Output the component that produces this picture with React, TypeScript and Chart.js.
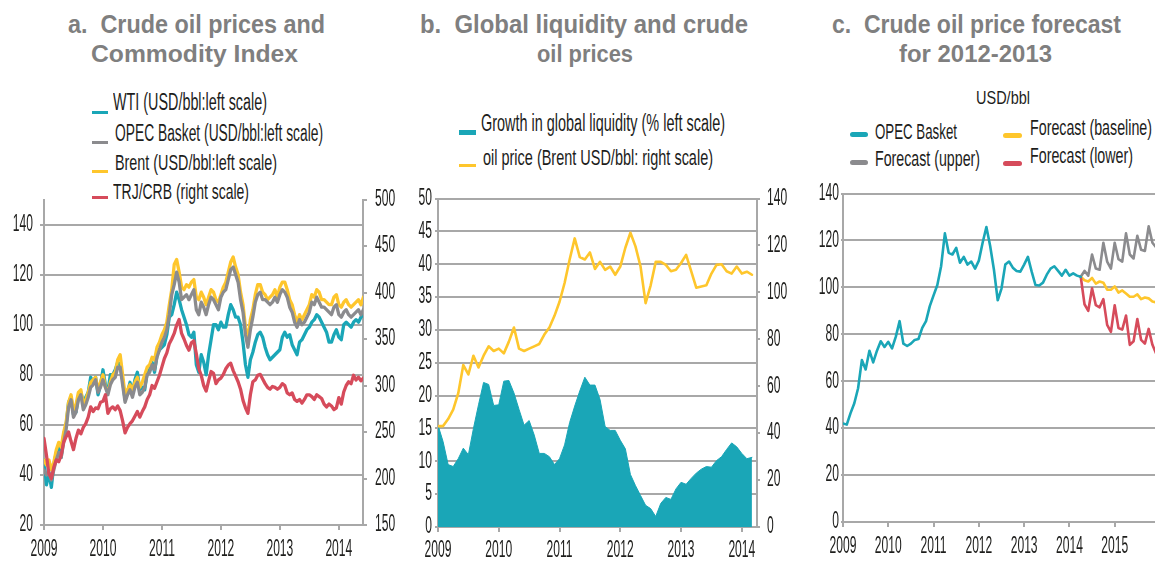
import React, { useEffect, useRef } from 'react';
import { Chart, registerables } from 'chart.js';

Chart.register(...registerables);

// ---------------- DATA ----------------
const START_YEAR = 2009;
const POINTS_PER_YEAR_A = 24; // panel a: twice a month
const POINTS_PER_YEAR_M = 12; // panels b, c: monthly

// Panel a (USD/bbl, left scale)
const WTI = [
  46, 36, 41, 35, 44, 49, 51, 47, 56, 60, 69, 71, 64, 65, 71, 73, 69, 71, 73, 79, 77, 79, 72, 76,
  82, 76, 73, 80, 80, 82, 85, 84, 78, 70, 73, 77, 73, 78, 81, 74, 75, 74, 81, 82, 85, 81, 88, 90,
  91, 92, 96, 103, 104, 108, 113, 110, 106, 103, 100, 96, 95, 97, 84, 81, 88, 85, 80, 88, 94, 100, 100, 98,
  101, 99, 99, 104, 108, 106, 103, 103, 100, 93, 84, 79, 86, 89, 93, 96, 97, 95, 91, 88, 86, 87, 88, 89,
  90, 95, 97, 95, 96, 92, 90, 88, 93, 94, 96, 98, 99, 101, 102, 104, 103, 101, 99, 97, 93, 93, 96, 98,
  95, 94, 100, 101, 100, 99, 101, 102, 101, 103, 104,
];
const OPEC_A = [
  42, 40, 41, 38, 42, 46, 49, 47, 53, 58, 67, 70, 63, 65, 70, 72, 66, 68, 71, 75, 76, 78, 73, 75,
  78, 75, 72, 76, 78, 79, 83, 83, 76, 69, 72, 74, 71, 75, 77, 72, 73, 75, 80, 81, 84, 82, 87, 90,
  93, 95, 98, 104, 112, 116, 121, 117, 110, 111, 112, 110, 112, 114, 106, 104, 109, 107, 104, 108, 111, 110, 108, 106,
  111, 113, 114, 118, 122, 123, 120, 117, 110, 105, 96, 91, 98, 103, 109, 112, 113, 110, 110, 109, 108, 109, 111, 109,
  112, 114, 113, 111, 107, 105, 101, 99, 102, 100, 101, 103, 105, 109, 108, 111, 109, 107, 107, 106, 105, 104, 107, 108,
  104, 103, 105, 106, 104, 103, 104, 105, 106, 104, 106,
];
const BRENT_A = [
  46, 44, 46, 42, 45, 50, 53, 51, 57, 61, 69, 72, 66, 68, 73, 74, 68, 70, 73, 77, 78, 79, 74, 77,
  80, 75, 73, 77, 80, 81, 86, 88, 80, 72, 74, 76, 74, 77, 79, 75, 77, 80, 83, 84, 87, 86, 91, 93,
  96, 98, 101, 108, 114, 124, 126, 121, 115, 114, 116, 115, 117, 118, 111, 110, 113, 111, 108, 111, 114, 113, 110, 109,
  112, 115, 117, 121, 125, 127, 123, 120, 113, 108, 99, 94, 102, 106, 112, 116, 116, 113, 112, 110, 111, 112, 114, 111,
  115, 117, 117, 114, 110, 108, 104, 101, 104, 102, 104, 106, 108, 112, 111, 114, 113, 110, 110, 109, 108, 108, 111, 112,
  108, 107, 109, 110, 108, 107, 108, 109, 110, 108, 111,
];
// TRJ/CRB index (right scale)
const CRB = [
  243, 225, 205, 200, 212, 220, 218, 225, 239, 245, 250, 240, 231, 243, 252, 248, 255, 259, 266, 277, 272, 276, 275, 282,
  283, 290, 270, 275, 277, 274, 278, 273, 262, 249, 255, 259, 262, 267, 272, 266, 272, 277, 285, 290, 300, 297, 304, 311,
  320, 329, 335, 345, 350, 356, 365, 371, 356, 350, 343, 338, 346, 348, 334, 318, 311, 300, 294, 305, 315, 313, 302, 306,
  308, 312, 318, 322, 324, 316, 310, 304, 296, 284, 276, 270, 290, 304, 306, 311, 312, 307, 302, 298, 296, 299, 298, 296,
  298, 302, 300, 292, 290, 292, 285, 283, 285, 281, 285, 290, 290, 288, 285, 290, 288, 286, 280, 277, 280, 278, 274, 276,
  287, 280, 293, 300, 304, 302, 311, 306, 309, 305, 308,
];

// Panel b (monthly, Jan 2009 - Mar 2014)
const LIQUIDITY = [
  15.5, 13, 9.5, 9.2, 10.4, 12, 11, 15, 18.6, 22, 21.7, 18.5,
  18.6, 22.2, 22.3, 20.4, 17.9, 15.5, 16.2, 14, 11.2, 11.2, 10.7, 9.5,
  10.4, 12.5, 15.9, 18.4, 20.7, 22.8, 21.6, 21.6, 19.4, 15.3, 14.7, 14.7,
  13.2, 11.9, 8, 6.3, 4.8, 3.3, 2.8, 1.6, 3.6, 4.5, 4.2, 5.8,
  6.8, 6.5, 7.4, 8.2, 8.8, 9.2, 9.1, 10.1, 10.7, 11.8, 12.8, 12.2,
  11.2, 10.4, 10.6,
];
const BRENT_B = [
  43, 43, 46, 50, 57, 69, 65, 73, 68, 73, 77, 75,
  76, 74, 79, 85, 76, 75, 76, 77, 78, 82, 85, 90,
  96, 104, 114, 123, 115, 114, 117, 110, 113, 109.6, 111, 107.5,
  111, 119, 125.4, 119.6, 111, 95.4, 103, 113, 113, 111.7, 109, 109.6,
  112.5, 116, 109, 102, 102.5, 103, 108, 111.7, 112, 109, 108, 111,
  108, 108.8, 107.5,
];

// Panel c (monthly, Jan 2009 - Apr 2014, forecasts from the last actual month)
const OPEC_C = [
  42, 41.5, 46.4, 50.6, 57, 69, 65, 73, 68, 73, 77, 74.6,
  76.8, 74, 79, 85.6, 76, 75, 76, 77.6, 78, 82.7, 85.6, 92,
  96.6, 101, 109, 123, 114.7, 114, 116.8, 110.5, 113, 109.7, 111, 108,
  111.4, 119, 125.7, 117.6, 107.5, 94.5, 99.5, 109.7, 111, 108.4, 107, 106.7,
  109.7, 113, 106.7, 101, 100.8, 102, 105.4, 108, 109, 107, 105, 107.5,
  105, 106, 105, 104.5,
];
const FORECAST_START = 63;
const FC_UPPER = [104.5, 107, 105, 114, 108, 107.5, 119, 111, 108, 119, 112, 111, 123, 114, 112.3, 122, 116, 115.5, 126, 119, 117, 116];
const FC_BASE = [104.5, 103, 102.5, 104, 101.6, 102.5, 102, 99, 99, 100.4, 97.8, 98.7, 97.4, 96, 96, 97, 95, 95.7, 95.3, 94, 93.6, 93.2];
const FC_LOWER = [104.5, 92.8, 90, 99.6, 92.4, 91.5, 95, 84, 81, 92.4, 82.7, 82, 88, 75.5, 77, 86.5, 77.6, 76, 82.3, 75.5, 71.7, 70];

// ---------------- STYLE ----------------
const TEAL = '#1aa6b7';
const GRAY = '#8b8b8e';
const GOLD = '#fec62c';
const RED = '#d64b5b';
const GRID = '#a8a8a8';
const TEXT = '#1d1d1b';
const TITLE = '#7f7f7f';

const MCTX = document.createElement('canvas').getContext('2d') as CanvasRenderingContext2D;
function measure(text: string, font: string) {
  MCTX.font = font;
  return MCTX.measureText(text).width;
}
function hasFont(name: string) {
  const probe = '0123456789abcdefWXYZ';
  const a = measure(probe, '40px monospace');
  const b = measure(probe, `40px '${name}', monospace`);
  return Math.abs(a - b) > 0.5;
}
const NARROW_OK = hasFont('Liberation Sans Narrow');
const LABEL_FAMILY = NARROW_OK ? "'Liberation Sans Narrow', 'Liberation Sans', sans-serif" : "'Liberation Sans', sans-serif";
const TICK_SIZE = 23;
const TICK_SX = NARROW_OK ? 0.64 : 0.525;
const TICK_FONT = { family: LABEL_FAMILY, size: TICK_SIZE, weight: 'normal' as const, lineHeight: 1.0 };

// squeeze tick label glyphs horizontally (condensed look)
const condensePlugin = {
  id: 'condense',
  beforeDraw(chart: any) {
    const ctx = chart.ctx as any;
    if (ctx.__origFill) return;
    const orig = ctx.fillText;
    ctx.__origFill = orig;
    ctx.fillText = function (text: string, x: number, y: number, maxWidth?: number) {
      this.save();
      this.translate(x, y);
      this.scale(TICK_SX, 1);
      if (maxWidth === undefined || maxWidth === null) orig.call(this, text, 0, 0);
      else orig.call(this, text, 0, 0, maxWidth / TICK_SX);
      this.restore();
    };
  },
  afterDraw(chart: any) {
    const ctx = chart.ctx as any;
    if (ctx.__origFill) {
      ctx.fillText = ctx.__origFill;
      delete ctx.__origFill;
    }
  },
};

function series(values: number[], perYear: number, yAxisID: string, color: string, width: number, startIndex = 0) {
  return {
    data: values.map((v, i) => ({ x: START_YEAR + (startIndex + i) / perYear, y: v })),
    yAxisID,
    borderColor: color,
    backgroundColor: color,
    borderWidth: width,
    pointRadius: 0,
    pointHoverRadius: 0,
    tension: 0,
    fill: false,
    borderJoinStyle: 'round' as const,
    borderCapStyle: 'round' as const,
  };
}

function xAxis(min: number, max: number, height: number, tickLength: number, padding: number) {
  return {
    type: 'linear' as const,
    position: 'bottom' as const,
    min,
    max,
    ticks: {
      stepSize: 1,
      includeBounds: false,
      autoSkip: false,
      maxRotation: 0,
      minRotation: 0,
      padding,
      color: TEXT,
      font: TICK_FONT,
      callback: (v: any) => String(v),
    },
    grid: { drawOnChartArea: false, drawTicks: true, tickLength, color: GRID, lineWidth: 2 },
    border: { display: true, color: GRID, width: 2 },
    afterFit: (s: any) => {
      s.height = height;
    },
  };
}

function yAxis(
  position: 'left' | 'right',
  min: number,
  max: number,
  step: number,
  width: number,
  tickLength: number,
  padding: number,
  gridOn: boolean,
) {
  return {
    type: 'linear' as const,
    position,
    min,
    max,
    ticks: {
      stepSize: step,
      includeBounds: false,
      padding,
      color: TEXT,
      font: TICK_FONT,
      callback: (v: any) => String(v),
    },
    grid: { drawOnChartArea: gridOn, drawTicks: true, tickLength, color: GRID, lineWidth: 2 },
    border: { display: true, color: GRID, width: 2 },
    afterFit: (s: any) => {
      s.width = width;
    },
  };
}

function baseOptions(padTop: number, scales: any) {
  return {
    responsive: false,
    maintainAspectRatio: false,
    animation: false as const,
    devicePixelRatio: 1,
    layout: { padding: { top: padTop, left: 0, right: 0, bottom: 0 } },
    plugins: { legend: { display: false }, tooltip: { enabled: false }, title: { display: false } },
    events: [] as any[],
    scales,
  };
}

const configA = () => ({
  type: 'line' as const,
  data: {
    datasets: [
      series(CRB, POINTS_PER_YEAR_A, 'y2', RED, 3.3),
      series(OPEC_A, POINTS_PER_YEAR_A, 'y', GRAY, 3.3),
      series(BRENT_A, POINTS_PER_YEAR_A, 'y', GOLD, 3.3),
      series(WTI, POINTS_PER_YEAR_A, 'y', TEAL, 3.3),
    ],
  },
  options: baseOptions(10, {
    x: xAxis(2009, 2014.41, 53, 5, 8),
    y: yAxis('left', 20, 150, 20, 44, 4, 7, true),
    y2: yAxis('right', 150, 500, 50, 37, 4, 8, false),
  }),
  plugins: [condensePlugin],
});

const configB = () => {
  const liq = series(LIQUIDITY, POINTS_PER_YEAR_M, 'y', TEAL, 1);
  (liq as any).fill = 'origin';
  return {
    type: 'line' as const,
    data: {
      datasets: [series(BRENT_B, POINTS_PER_YEAR_M, 'y2', GOLD, 2.6), liq],
    },
    options: baseOptions(11, {
      x: xAxis(2009, 2014.25, 51, 5, 7),
      y: yAxis('left', 0, 50, 5, 38, 3, 3, true),
      y2: yAxis('right', 0, 140, 20, 43, 3, 7, false),
    }),
    plugins: [condensePlugin],
  };
};

const configC = () => ({
  type: 'line' as const,
  data: {
    datasets: [
      series(OPEC_C, POINTS_PER_YEAR_M, 'y', TEAL, 2.6),
      series(FC_LOWER, POINTS_PER_YEAR_M, 'y', RED, 2.6, FORECAST_START),
      series(FC_BASE, POINTS_PER_YEAR_M, 'y', GOLD, 2.6, FORECAST_START),
      series(FC_UPPER, POINTS_PER_YEAR_M, 'y', GRAY, 2.6, FORECAST_START),
    ],
  },
  options: baseOptions(10, {
    x: xAxis(2009, 2015.89, 56, 5, 8),
    y: yAxis('left', 0, 140, 20, 43, 2, 2, true),
  }),
  plugins: [condensePlugin],
});

// ---------------- COMPONENTS ----------------
function ChartCanvas(props: { left: number; top: number; width: number; height: number; make: () => any }) {
  const ref = useRef<HTMLCanvasElement>(null);
  useEffect(() => {
    const chart = new Chart(ref.current as HTMLCanvasElement, props.make());
    return () => chart.destroy();
  }, []);
  return (
    <canvas
      ref={ref}
      width={props.width}
      height={props.height}
      style={{ position: 'absolute', left: props.left, top: props.top, width: props.width, height: props.height }}
    />
  );
}

function FitText(props: {
  text: string;
  left: number;
  right: number;
  capTop: number;
  base: number;
  weight?: number;
  family?: string;
  color?: string;
}) {
  const weight = props.weight ?? 400;
  const family = props.family ?? LABEL_FAMILY;
  const size = (props.base - props.capTop) / 0.69;
  const font = `${weight} ${size}px ${family}`;
  const w = measure(props.text, font);
  const sx = (props.right - props.left) / w;
  return (
    <div
      style={{
        position: 'absolute',
        left: props.left,
        top: props.base - 0.8465 * size,
        whiteSpace: 'pre',
        font,
        lineHeight: `${size}px`,
        color: props.color ?? TEXT,
        transform: `scaleX(${sx})`,
        transformOrigin: '0 0',
      }}
    >
      {props.text}
    </div>
  );
}

function Swatch(props: { x1: number; x2: number; y: number; h: number; color: string; round?: boolean }) {
  return (
    <div
      style={{
        position: 'absolute',
        left: props.x1,
        top: props.y - props.h / 2,
        width: props.x2 - props.x1,
        height: props.h,
        background: props.color,
        borderRadius: props.round ? props.h / 2 : 0,
      }}
    />
  );
}

const TITLE_FAMILY = "'Liberation Sans', Arial, sans-serif";

export default function App() {
  useEffect(() => {
    document.body.style.margin = '0';
  }, []);
  return (
    <div style={{ position: 'absolute', left: 0, top: 0, width: 1155, height: 578, background: '#fff', overflow: 'hidden' }}>
      {/* titles */}
      <FitText text="a.  Crude oil prices and" left={68} right={325} capTop={15} base={33} weight={700} family={TITLE_FAMILY} color={TITLE} />
      <FitText text="Commodity Index" left={91} right={298} capTop={46} base={63} weight={700} family={TITLE_FAMILY} color={TITLE} />
      <FitText text="b.  Global liquidity and crude" left={420} right={748} capTop={15} base={33} weight={700} family={TITLE_FAMILY} color={TITLE} />
      <FitText text="oil prices" left={537} right={633} capTop={46} base={63} weight={700} family={TITLE_FAMILY} color={TITLE} />
      <FitText text="c.  Crude oil price forecast" left={832} right={1121} capTop={15} base={33} weight={700} family={TITLE_FAMILY} color={TITLE} />
      <FitText text="for 2012-2013" left={899} right={1052} capTop={46} base={63} weight={700} family={TITLE_FAMILY} color={TITLE} />

      {/* legend a */}
      <Swatch x1={92} x2={108} y={112} h={3} color={TEAL} />
      <FitText text="WTI (USD/bbl:left scale)" left={113} right={267} capTop={95} base={111} />
      <Swatch x1={92} x2={108} y={142} h={3} color={GRAY} />
      <FitText text="OPEC Basket (USD/bbl:left scale)" left={115} right={323} capTop={126} base={142} />
      <Swatch x1={92} x2={108} y={171} h={3} color={GOLD} />
      <FitText text="Brent (USD/bbl:left scale)" left={115} right={277} capTop={155} base={170} />
      <Swatch x1={92} x2={108} y={197} h={3} color={RED} />
      <FitText text="TRJ/CRB (right scale)" left={113} right={249} capTop={184} base={199} />

      {/* legend b */}
      <Swatch x1={459} x2={476} y={132} h={5} color={TEAL} />
      <FitText text="Growth in global liquidity (% left scale)" left={481} right={725} capTop={116} base={132} />
      <Swatch x1={459} x2={476} y={165} h={3} color={GOLD} />
      <FitText text="oil price (Brent USD/bbl: right scale)" left={483} right={713} capTop={150} base={165} />

      {/* legend c */}
      <FitText text="USD/bbl" left={976} right={1030} capTop={92} base={105} />
      <Swatch x1={850} x2={868} y={134} h={5} color={TEAL} round />
      <FitText text="OPEC Basket" left={875} right={957} capTop={124} base={139} />
      <Swatch x1={850} x2={868} y={162} h={5} color={GRAY} round />
      <FitText text="Forecast (upper)" left={875} right={980} capTop={151} base={166} />
      <Swatch x1={1003} x2={1022} y={135} h={5} color={GOLD} round />
      <FitText text="Forecast (baseline)" left={1030} right={1152} capTop={120} base={135} />
      <Swatch x1={1003} x2={1022} y={163} h={5} color={RED} round />
      <FitText text="Forecast (lower)" left={1030} right={1133} capTop={148} base={163} />

      {/* charts */}
      <ChartCanvas left={0} top={180} width={400} height={398} make={configA} />
      <ChartCanvas left={400} top={180} width={400} height={398} make={configB} />
      <ChartCanvas left={800} top={180} width={355} height={398} make={configC} />
    </div>
  );
}
